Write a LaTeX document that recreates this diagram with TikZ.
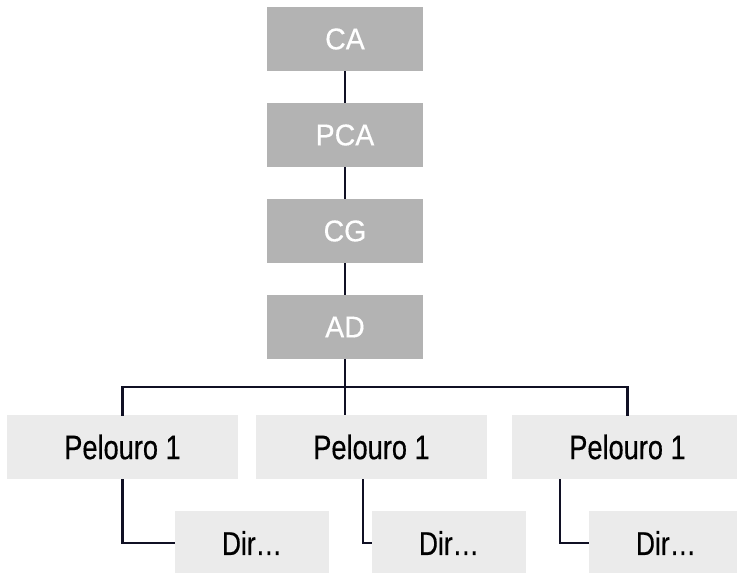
\documentclass[tikz,border=0pt]{standalone}
\usepackage{fontspec}
\setmainfont{Liberation Sans}
\newfontfamily\topfont{Liberation Sans}[FakeStretch=0.95, FakeBold=0.4]
\newfontfamily\lowfont{Liberation Sans}[FakeStretch=0.8, FakeBold=0.4]
\definecolor{boardgray}{RGB}{179,179,179}
\definecolor{unitgray}{RGB}{235,235,235}
\definecolor{linkink}{RGB}{16,16,36}
\begin{document}
\begin{tikzpicture}[x=1pt, y=-1pt,
    board/.style = {fill=boardgray, text=white, minimum width=156pt, minimum height=64pt,
      inner sep=0pt, font=\topfont\fontsize{30}{30}\selectfont},
    pelouro/.style = {fill=unitgray, text=black, minimum width=231pt, minimum height=64pt,
      inner sep=0pt, font=\lowfont\fontsize{34}{34}\selectfont},
    dir/.style = {fill=unitgray, text=black, minimum width=154pt, minimum height=64pt,
      inner sep=0pt, font=\lowfont\fontsize{33}{33}\selectfont},
    link/.style = {draw=linkink, line width=2.5pt}]
        \useasboundingbox (0,0) rectangle (737,573);
        \node [board] (ca) at (345,39) {CA};
        \node [board] (pca) at (345,135) {PCA};
        \node [board] (cg) at (345,231) {CG};
        \node [board] (ad) at (345,327) {AD};
        \node [pelouro] (p1) at (122.5,447) {Pelouro 1};
        \node [pelouro] (p2) at (371.5,447) {Pelouro 1};
        \node [pelouro] (p3) at (627.5,447) {Pelouro 1};
        \node [dir] (d1) at (252,543) {Dir…};
        \node [dir] (d2) at (449,543) {Dir…};
        \node [dir] (d3) at (666,543) {Dir…};
        \coordinate (bus) at (345,387);
        \draw [link] (ca) -- (pca);
        \draw [link] (pca) -- (cg);
        \draw [link] (cg) -- (ad);
        \draw [link] (ad) -- (ad.south |- p2.north);
        \draw [link, line cap=rect] (p1.north) -- (p1.north |- bus) -- (p3.north |- bus) -- (p3.north);
        \draw [link] (p1.south) |- (d1.west);
        \draw [link] ([xshift=-8.5pt]p2.south) |- (d2.west);
        \draw [link] ([xshift=-67.5pt]p3.south) |- (d3.west);
      \end{tikzpicture}
\end{document}
